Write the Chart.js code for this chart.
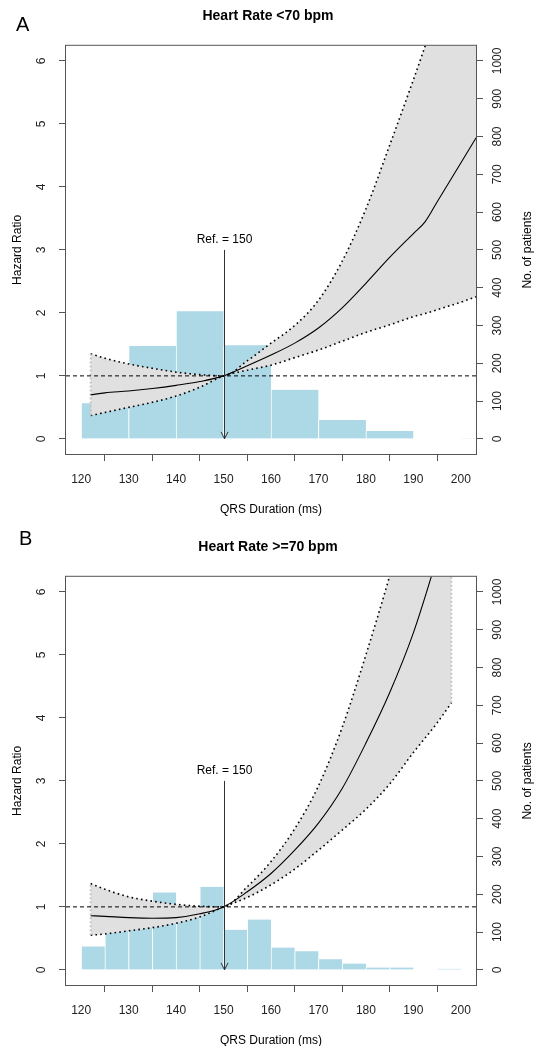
<!DOCTYPE html>
<html>
<head>
<meta charset="utf-8">
<script src="https://cdn.jsdelivr.net/npm/chart.js@4.4.1/dist/chart.umd.min.js"></script>
<style>
  body { margin: 0; background: #fff; overflow: hidden; }
  .panel { position: absolute; left: 0; width: 536px; height: 531px; }
  .letter { position: absolute; font: 20px "Liberation Sans", Arial, sans-serif; line-height: 20px; color: #000; }
</style>
</head>
<body>
<div class="panel" style="top:0"><canvas id="chartA" width="536" height="531"></canvas><div class="letter" style="left:16px;top:14px">A</div></div>
<div class="panel" style="top:531px"><canvas id="chartB" width="536" height="531"></canvas><div class="letter" style="left:19px;top:-3px">B</div></div>
<script>
// axes
const xTicks = [120, 130, 140, 150, 160, 170, 180, 190, 200];
const hrTicks = [0, 1, 2, 3, 4, 5, 6];
const patientTicks = [0, 100, 200, 300, 400, 500, 600, 700, 800, 900, 1000];
const X_MIN = 116.8, X_MAX = 203.2;
const HR_MIN = -0.24, HR_MAX = 6.24;
const N_MIN = -40, N_MAX = 1040;
const REF_X = 150, REF_TOP = 3, REF_LABEL = 'Ref. = 150';

// Panel A: heart rate < 70 bpm
const binsA = [125, 135, 145, 155, 165, 175, 185, 195, 205];   // 10 ms bins (centres)
const countsA = [94, 246, 338, 248, 130, 50, 21, 0, 2];
const qrsA = [122, 125, 130, 135, 140, 145, 150, 155, 160, 165, 170, 175, 180, 185, 190, 192.5, 195, 200, 203.4];
const hrA = [0.70, 0.73, 0.76, 0.80, 0.85, 0.91, 1.00, 1.16, 1.33, 1.52, 1.76, 2.08, 2.47, 2.88, 3.26, 3.45, 3.76, 4.38, 4.80];
const upperA = [1.35, 1.28, 1.19, 1.12, 1.06, 1.02, 1.00, 1.24, 1.52, 1.80, 2.20, 2.82, 3.65, 4.66, 5.70, 6.24, 6.80, 7.90, 8.70];
const lowerA = [0.37, 0.42, 0.50, 0.58, 0.68, 0.82, 1.00, 1.09, 1.17, 1.29, 1.41, 1.55, 1.69, 1.81, 1.94, 1.99, 2.05, 2.17, 2.26];

// Panel B: heart rate >= 70 bpm
const binsB = [122.5, 127.5, 132.5, 137.5, 142.5, 147.5, 152.5, 157.5, 162.5, 167.5, 172.5, 177.5, 182.5, 187.5, 192.5, 197.5];  // 5 ms bins
const countsB = [62, 110, 120, 205, 150, 220, 106, 133, 59, 49, 28, 17, 6, 6, 0, 3];
const qrsB = [122, 125, 130, 135, 140, 145, 150, 155, 160, 165, 170, 175, 180, 185, 190, 195, 198];
const hrB = [0.86, 0.85, 0.83, 0.82, 0.83, 0.89, 1.00, 1.24, 1.53, 1.90, 2.33, 2.88, 3.60, 4.40, 5.35, 6.55, 7.35];
const upperB = [1.37, 1.28, 1.16, 1.09, 1.04, 1.01, 1.00, 1.32, 1.72, 2.24, 2.92, 3.85, 5.00, 6.25, 7.60, 9.00, 9.90];
const lowerB = [0.55, 0.57, 0.62, 0.67, 0.74, 0.84, 1.00, 1.15, 1.35, 1.60, 1.90, 2.22, 2.55, 2.95, 3.45, 3.92, 4.24];

const FONT = '"Liberation Sans", Arial, Helvetica, sans-serif';
Chart.defaults.font.family = FONT;
Chart.defaults.font.size = 12;
Chart.defaults.color = '#222';

const pts = (xs, ys) => xs.map((x, i) => ({x: x, y: ys[i]}));

const decor = {
  id: 'decor',
  afterDatasetsDraw(chart) {
    const {ctx, scales: {x, y}} = chart;
    const px = Math.round(x.getPixelForValue(REF_X)) + 0.5;
    const top = y.getPixelForValue(REF_TOP);
    const bot = y.getPixelForValue(0);
    ctx.save();
    ctx.strokeStyle = '#333';
    ctx.lineWidth = 1;
    ctx.beginPath();
    ctx.moveTo(px, top);
    ctx.lineTo(px, bot);
    ctx.moveTo(px - 3.5, bot - 7);
    ctx.lineTo(px, bot);
    ctx.lineTo(px + 3.5, bot - 7);
    ctx.stroke();
    ctx.fillStyle = '#000';
    ctx.font = '12px ' + FONT;
    ctx.textAlign = 'center';
    ctx.textBaseline = 'middle';
    ctx.fillText(REF_LABEL, px, top - 10);
    ctx.restore();
  },
  afterDraw(chart) {
    const {ctx, chartArea: a} = chart;
    ctx.save();
    ctx.strokeStyle = '#555';
    ctx.lineWidth = 1;
    ctx.strokeRect(a.left - 0.5, a.top - 0.5, a.right - a.left + 1, a.bottom - a.top + 1);
    ctx.translate(528, (a.top + a.bottom) / 2);
    ctx.rotate(-Math.PI / 2);
    ctx.fillStyle = '#000';
    ctx.font = '12px ' + FONT;
    ctx.textAlign = 'center';
    ctx.textBaseline = 'middle';
    ctx.fillText('No. of patients', 0, 0);
    ctx.restore();
  }
};

function axisGrid() {
  return { drawOnChartArea: false, drawTicks: true, tickLength: 7, color: '#555', lineWidth: 1 };
}

function makeChart(id, title, bins, counts, qrs, hr, upper, lower) {
  const last = qrs.length - 1;
  const edgeStyle = { type: 'line', borderColor: '#c4c4c4', borderWidth: 2, borderDash: [2, 2], pointRadius: 0, fill: false, order: 3, clip: 0 };
  const ciStyle = { borderColor: '#000', borderWidth: 1.6, borderDash: [1.6, 3.2], pointRadius: 0, cubicInterpolationMode: 'monotone', clip: 0 };
  return new Chart(document.getElementById(id), {
    type: 'line',
    data: {
      datasets: [
        { data: [{x: X_MIN, y: 1}, {x: X_MAX, y: 1}], borderColor: '#000', borderWidth: 1, borderDash: [4, 3], pointRadius: 0, order: 1, clip: 0 },
        { data: pts(qrs, hr), borderColor: '#000', borderWidth: 1.1, pointRadius: 0, cubicInterpolationMode: 'monotone', order: 2, clip: 0 },
        Object.assign({ data: pts(qrs, upper), fill: '+1', backgroundColor: '#e0e0e0', order: 5 }, ciStyle),
        Object.assign({ data: pts(qrs, lower), fill: false, order: 4 }, ciStyle),
        Object.assign({ data: [{x: qrs[0], y: lower[0]}, {x: qrs[0], y: upper[0]}] }, edgeStyle),
        Object.assign({ data: [{x: qrs[last], y: lower[last]}, {x: qrs[last], y: upper[last]}] }, edgeStyle),
        { type: 'bar', data: pts(bins, counts), yAxisID: 'y2', backgroundColor: '#add8e6', borderColor: '#fff',
          borderWidth: {left: 1, right: 0, top: 0, bottom: 0}, borderSkipped: false,
          barPercentage: 1, categoryPercentage: 1, order: 10 }
      ]
    },
    options: {
      responsive: false,
      animation: false,
      events: [],
      layout: { padding: 0 },
      plugins: {
        legend: { display: false },
        tooltip: { enabled: false },
        title: { display: true, text: title, color: '#000', font: { size: 14, weight: 'bold' }, padding: { top: 8, bottom: 21 } }
      },
      scales: {
        x: {
          type: 'linear', position: 'bottom', min: X_MIN, max: X_MAX, offset: false,
          afterBuildTicks: s => { s.ticks = xTicks.map(v => ({value: v})); },
          afterFit: s => { s.height = 77; },
          grid: axisGrid(), border: { display: false },
          ticks: { padding: 11, maxRotation: 0, color: '#222', callback: v => String(v) },
          title: { display: true, text: 'QRS Duration (ms)', color: '#000', padding: { top: 0, bottom: 14 } }
        },
        y: {
          type: 'linear', position: 'left', min: HR_MIN, max: HR_MAX,
          afterBuildTicks: s => { s.ticks = hrTicks.map(v => ({value: v})); },
          afterFit: s => { s.width = 66; },
          grid: axisGrid(), border: { display: false },
          ticks: { minRotation: 90, maxRotation: 90, crossAlign: 'center', padding: 14, color: '#222', callback: v => String(v) },
          title: { display: true, text: 'Hazard Ratio', color: '#000', padding: { top: 10.5, bottom: 0 } }
        },
        y2: {
          type: 'linear', position: 'right', min: N_MIN, max: N_MAX,
          afterBuildTicks: s => { s.ticks = patientTicks.map(v => ({value: v})); },
          afterFit: s => { s.width = 60; },
          grid: axisGrid(), border: { display: false },
          ticks: { minRotation: 90, maxRotation: 90, crossAlign: 'center', padding: 1, color: '#222', callback: v => String(v) }
        }
      }
    },
    plugins: [decor]
  });
}

makeChart('chartA', 'Heart Rate <70 bpm', binsA, countsA, qrsA, hrA, upperA, lowerA);
makeChart('chartB', 'Heart Rate >=70 bpm', binsB, countsB, qrsB, hrB, upperB, lowerB);
</script>
</body>
</html>
